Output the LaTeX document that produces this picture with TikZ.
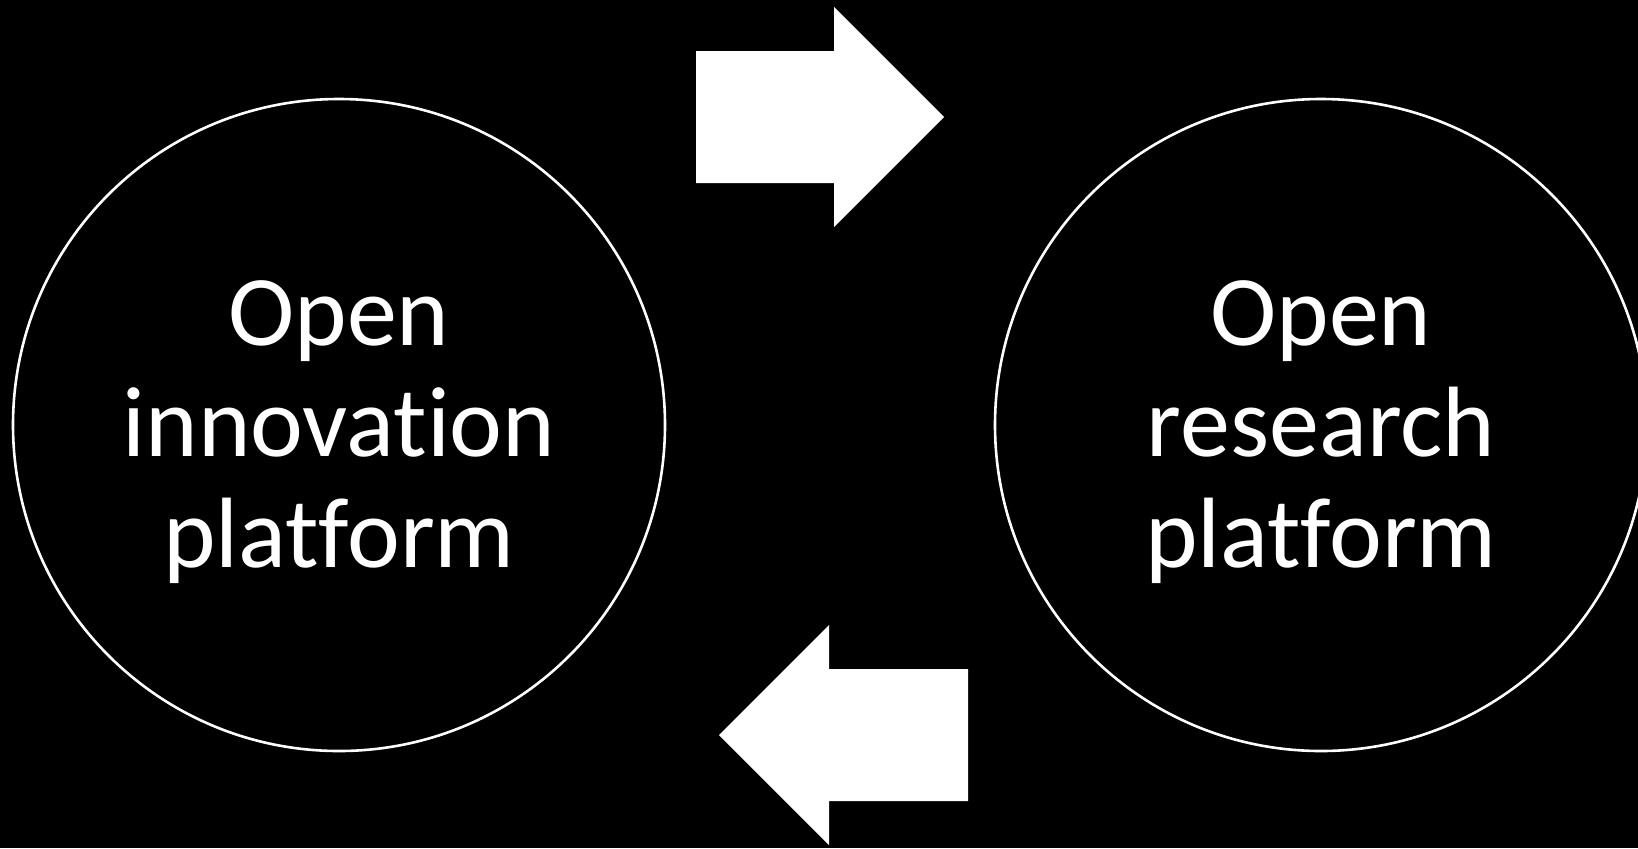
\documentclass[tikz,border=0pt]{standalone}
\usepackage{fontspec}
\setmainfont{Carlito}[Ligatures=NoCommon]
\usetikzlibrary{calc}

\begin{document}
\begin{tikzpicture}[x=0.5pt,y=-0.5pt,
    platform/.style={circle,draw=white,line width=1.3pt,minimum size=326pt,inner sep=0pt},
    platformtext/.style={text=white,align=center,anchor=base,inner sep=0pt,
      font=\fontsize{50pt}{55.5pt}\selectfont},
    blockarrow/.style={fill=white}]
  \fill[black] (0,0) rectangle (1638,848);
  \useasboundingbox (0,0) rectangle (1638,848);
  \begin{scope}
    \clip (0,0) rectangle (1638,848);
    \node[platform] (inno) at (339,425) {};
    \node[platform] (res) at (1321,425) {};
  \end{scope}
  \node[platformtext] (innotext) at ($(inno.center)+(0,142)$) {Open\\innovation\\platform};
  \node[platformtext] (restext) at ($(res.center)+(0,142)$) {Open\\research\\platform};

  % forward and backward arrows
  \coordinate (fwd) at (696,117);
  \coordinate (bwd) at (968,735);
  \fill[blockarrow] (fwd) -- ++(0,-66) -- ++(138,0) -- ++(0,-44) -- ++(110,110)
    -- ++(-110,110) -- ++(0,-44) -- ++(-138,0) -- cycle;
  \fill[blockarrow] (bwd) -- ++(0,-66) -- ++(-139,0) -- ++(0,-44) -- ++(-110,110)
    -- ++(110,110) -- ++(0,-44) -- ++(139,0) -- cycle;
\end{tikzpicture}
\end{document}
